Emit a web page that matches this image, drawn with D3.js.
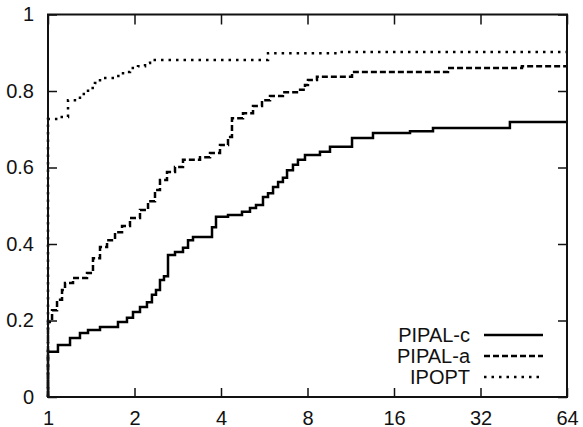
<!DOCTYPE html>
<html>
<head>
<meta charset="utf-8">
<script src="https://cdn.jsdelivr.net/npm/d3@7"></script>
<style>
  html, body { margin: 0; padding: 0; background: #fff; }
  svg { display: block; }
  text { font-family: "Liberation Sans", Arial, Helvetica, sans-serif; fill: #111; }
</style>
</head>
<body>
<svg id="chart" width="583" height="427"></svg>
<script>
// ---- data (performance profile: tau vs fraction of problems) ----
const seriesNames = ["PIPAL-c", "PIPAL-a", "IPOPT"];

const tauPipalC = [1, 1, 1.083, 1.193, 1.292, 1.378, 1.517, 1.752, 1.883, 1.976, 2.09, 2.21, 2.30, 2.376, 2.453, 2.533, 2.616, 2.767, 2.95, 3.071, 3.196, 3.722, 3.843, 4.231, 4.733, 5.046, 5.295, 5.60, 5.83, 6.07, 6.32, 6.57, 6.79, 7.12, 7.41, 7.84, 8.84, 9.58, 11.43, 13.52, 18.19, 21.87, 40.5, 64];
const valPipalC = [0, 0.118, 0.136, 0.154, 0.167, 0.175, 0.183, 0.196, 0.207, 0.222, 0.235, 0.248, 0.267, 0.280, 0.306, 0.316, 0.371, 0.379, 0.390, 0.410, 0.418, 0.444, 0.471, 0.476, 0.484, 0.494, 0.502, 0.523, 0.533, 0.549, 0.562, 0.573, 0.593, 0.607, 0.620, 0.633, 0.641, 0.654, 0.677, 0.690, 0.695, 0.703, 0.719, 0.719];

const tauPipalA = [1, 1, 1.033, 1.075, 1.119, 1.146, 1.222, 1.367, 1.434, 1.517, 1.605, 1.711, 1.81, 1.929, 2.09, 2.229, 2.357, 2.453, 2.595, 2.767, 2.95, 3.381, 3.663, 3.968, 4.231, 4.368, 4.771, 5.17, 5.556, 5.924, 6.57, 7.35, 7.84, 8.03, 8.63, 11.43, 24.66, 44.6, 64];
const valPipalA = [0, 0.196, 0.227, 0.254, 0.280, 0.298, 0.311, 0.324, 0.363, 0.392, 0.410, 0.431, 0.447, 0.468, 0.489, 0.512, 0.541, 0.567, 0.588, 0.601, 0.620, 0.627, 0.638, 0.659, 0.680, 0.729, 0.742, 0.761, 0.776, 0.787, 0.797, 0.803, 0.816, 0.829, 0.837, 0.850, 0.860, 0.865, 0.865];

const tauIpopt = [1, 1, 1.083, 1.174, 1.272, 1.292, 1.378, 1.457, 1.517, 1.711, 1.824, 1.929, 2.057, 2.176, 2.265, 5.83, 10.22, 64];
const valIpopt = [0, 0.727, 0.732, 0.776, 0.779, 0.792, 0.808, 0.821, 0.834, 0.839, 0.850, 0.860, 0.865, 0.873, 0.881, 0.899, 0.902, 0.902];

const xTickValues = [1, 2, 4, 8, 16, 32, 64];
const xTickLabels = ["1", "2", "4", "8", "16", "32", "64"];
const yTickValues = [0, 0.2, 0.4, 0.6, 0.8, 1];
const yTickLabels = ["0", "0.2", "0.4", "0.6", "0.8", "1"];

// ---- layout ----
const svg = d3.select("#chart");
const L = 48, R = 567, T = 14.5, B = 397;

const x = d3.scaleLog().base(2).domain([1, 64]).range([L, R]);
const y = d3.scaleLinear().domain([0, 1]).range([B, T]);

const series = [
  { name: seriesNames[0], tau: tauPipalC, val: valPipalC, dash: null },
  { name: seriesNames[1], tau: tauPipalA, val: valPipalA, dash: "6,3" },
  { name: seriesNames[2], tau: tauIpopt, val: valIpopt, dash: "2.5,5" }
];

const line = d3.line()
  .x(d => x(d[0]))
  .y(d => y(d[1]))
  .curve(d3.curveStepAfter);

const plot = svg.append("g");
series.forEach(s => {
  const pts = s.tau.map((t, i) => [t, s.val[i]]);
  plot.append("path")
    .datum(pts)
    .attr("fill", "none")
    .attr("stroke", "#000")
    .attr("stroke-width", 2.5)
    .attr("stroke-dasharray", s.dash)
    .attr("d", line);
});

// ---- axes ----
const fontSize = 20;
const xAxisB = d3.axisBottom(x).tickValues(xTickValues)
  .tickFormat((d, i) => xTickLabels[i]).tickSizeInner(-9).tickSizeOuter(0).tickPadding(14);
const xAxisT = d3.axisTop(x).tickValues(xTickValues).tickFormat("").tickSizeInner(-10).tickSizeOuter(0);
const yAxisL = d3.axisLeft(y).tickValues(yTickValues)
  .tickFormat((d, i) => yTickLabels[i]).tickSizeInner(-9).tickSizeOuter(0).tickPadding(14);
const yAxisR = d3.axisRight(y).tickValues(yTickValues).tickFormat("").tickSizeInner(-9).tickSizeOuter(0);

function style(g) {
  g.select(".domain").remove();
  g.selectAll(".tick line").attr("stroke", "#111").attr("stroke-width", 1.5);
  g.selectAll(".tick text").attr("font-size", fontSize)
    .attr("font-family", "'Liberation Sans', Arial, Helvetica, sans-serif").attr("fill", "#111");
}

svg.append("g").attr("transform", `translate(0,${B})`).call(xAxisB).call(style);
svg.append("g").attr("transform", `translate(0,${T})`).call(xAxisT).call(style);
svg.append("g").attr("transform", `translate(${L},0)`).call(yAxisL).call(style);
svg.append("g").attr("transform", `translate(${R},0)`).call(yAxisR).call(style);

// frame
svg.append("rect")
  .attr("x", L).attr("y", T).attr("width", R - L).attr("height", B - T)
  .attr("fill", "none").attr("stroke", "#111").attr("stroke-width", 2);

// ---- legend ----
const legend = svg.append("g");
series.forEach((s, i) => {
  const cy = 335 + i * 21;
  legend.append("text")
    .attr("x", 470).attr("y", cy).attr("dy", "0.36em")
    .attr("text-anchor", "end").attr("font-size", fontSize)
    .text(s.name);
  legend.append("line")
    .attr("x1", 484).attr("x2", 543).attr("y1", cy).attr("y2", cy)
    .attr("stroke", "#000").attr("stroke-width", 2.5)
    .attr("stroke-dasharray", s.dash);
});
</script>
</body>
</html>
